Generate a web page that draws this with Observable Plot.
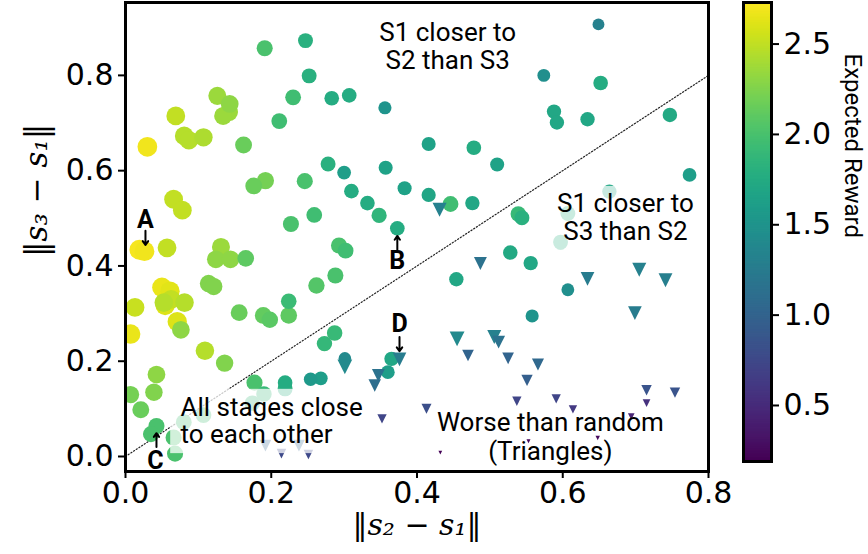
<!DOCTYPE html>
<html><head><meta charset="utf-8">
<script src="https://cdn.jsdelivr.net/npm/d3@7"></script>
<script src="https://cdn.jsdelivr.net/npm/@observablehq/plot@0.6"></script>
<style>
body{margin:0;background:#fff;}
#wrap{position:relative;width:868px;height:554px;overflow:hidden;}
#wrap svg{position:absolute;top:0;}
</style></head><body><div id="wrap"></div>
<script>
// circles: stages ordered (x = ||s2-s1||, y = ||s3-s1||, expected reward)
const circleX = [0.030,0.069,0.0805,0.087,0.107,0.126,0.143,0.142,0.134,0.162,0.191,0.247,0.252,0.230,0.283,0.307,0.211,0.176,0.192,0.246,0.278,0.300,0.310,0.332,0.066,0.078,0.227,0.259,0.019,0.026,0.057,0.131,0.124,0.144,0.165,0.293,0.302,0.050,0.061,0.013,0.0544,0.0526,0.0627,0.081,0.114,0.121,0.071,0.076,0.007,0.109,0.156,0.189,0.198,0.224,0.224,0.262,0.288,0.287,0.273,0.136,0.0425,0.039,0.007,0.021,0.0425,0.035,0.066,0.068,0.080,0.107,0.177,0.219,0.219,0.190,0.174,0.254,0.268,0.301,0.365,0.360,0.649,0.574,0.652,0.588,0.592,0.634,0.356,0.416,0.478,0.510,0.357,0.383,0.416,0.446,0.476,0.348,0.373,0.539,0.544,0.528,0.556,0.454,0.607,0.558,0.747,0.774,0.664,0.607,0.597];
const circleY = [0.650,0.715,0.673,0.664,0.670,0.757,0.740,0.723,0.715,0.654,0.857,0.873,0.799,0.754,0.752,0.758,0.704,0.568,0.579,0.578,0.614,0.596,0.557,0.532,0.540,0.517,0.488,0.507,0.434,0.431,0.438,0.440,0.414,0.414,0.416,0.443,0.432,0.355,0.347,0.313,0.317,0.323,0.330,0.323,0.363,0.357,0.283,0.266,0.257,0.222,0.302,0.296,0.287,0.296,0.326,0.359,0.380,0.259,0.237,0.196,0.172,0.135,0.130,0.098,0.064,0.047,0.040,0.006,0.072,0.087,0.155,0.155,0.142,0.131,0.112,0.162,0.164,0.206,0.205,0.177,0.907,0.800,0.784,0.724,0.701,0.708,0.732,0.656,0.648,0.613,0.606,0.563,0.549,0.530,0.532,0.506,0.479,0.509,0.501,0.428,0.406,0.372,0.350,0.295,0.717,0.591,0.556,0.510,0.450];
const circleReward = [2.68,2.50,2.45,2.45,2.42,2.35,2.30,2.35,2.35,2.15,2.00,1.80,1.80,1.95,1.75,1.75,1.95,2.15,2.20,2.00,1.80,1.60,1.75,1.75,2.50,2.50,2.00,1.95,2.70,2.68,2.50,2.35,2.30,2.30,2.10,2.00,1.95,2.65,2.62,2.52,2.60,2.45,2.50,2.45,2.25,2.25,2.60,2.30,2.65,2.45,2.15,2.12,2.08,2.10,1.92,2.05,2.00,1.90,1.88,2.25,2.30,2.25,2.20,2.15,2.00,2.00,2.00,2.00,1.95,1.95,2.00,1.75,1.80,1.90,1.90,1.55,1.60,1.40,1.70,1.60,1.30,1.45,1.75,1.70,1.70,1.70,1.50,1.65,1.75,1.65,1.65,1.65,1.68,1.95,1.70,1.85,1.75,1.90,1.80,1.72,1.70,1.70,1.45,1.50,1.72,1.60,1.70,1.80,1.80];

// triangles: worse than random
const triX = [0.431,0.487,0.634,0.705,0.741,0.699,0.455,0.506,0.512,0.376,0.347,0.342,0.470,0.525,0.566,0.551,0.537,0.591,0.614,0.715,0.754,0.715,0.694,0.413,0.352,0.432,0.553,0.648,0.301,0.192,0.238,0.214,0.251];
const triY = [0.518,0.405,0.373,0.392,0.370,0.301,0.247,0.251,0.240,0.204,0.170,0.149,0.212,0.206,0.193,0.160,0.116,0.121,0.099,0.139,0.134,0.112,0.084,0.100,0.079,0.008,0.032,0.039,0.188,0.023,0.023,0.006,0.004];
const triReward = [1.30,1.15,1.25,1.30,1.28,1.25,1.40,1.30,1.15,1.25,1.15,1.10,1.00,1.00,1.05,0.95,0.72,0.72,0.62,0.85,0.85,0.55,0.45,0.80,0.72,0.20,0.22,0.25,1.40,1.00,1.00,0.75,0.75];

// axis ticks
const xTicks = [0, 0.2, 0.4, 0.6, 0.8];
const xTickLabels = ["0.0", "0.2", "0.4", "0.6", "0.8"];
const yTicks = [0, 0.2, 0.4, 0.6, 0.8];
const yTickLabels = ["0.0", "0.2", "0.4", "0.6", "0.8"];
const cbTicks = [0.5, 1.0, 1.5, 2.0, 2.5];
const cbTickLabels = ["0.5", "1.0", "1.5", "2.0", "2.5"];
const rewardDomain = [0.19, 2.73];

// annotations
const regionTexts = ["S1 closer to\nS2 than S3", "S1 closer to\nS3 than S2", "Worse than random\n(Triangles)"];
const regionTextX = [0.442, 0.686, 0.583];
const regionTextY = [0.861, 0.502, 0.042];
const closeText = ["All stages close\nto each other"];
const closeTextX = [0.0754];
const closeTextY = [0.0756];
const boxX1 = [0.062, 0.579];
const boxX2 = [0.329, 0.797];
const boxY1 = [0.006, 0.433];
const boxY2 = [0.141, 0.567];
const letters = ["A", "B", "C", "D"];
const letterX = [0.0274, 0.373, 0.041, 0.376];
const letterY = [0.496, 0.411, -0.010, 0.279];
const arrowX = [0.0274, 0.373, 0.0425, 0.376];
const arrowY1 = [0.474, 0.434, 0.020, 0.251];
const arrowY2 = [0.444, 0.463, 0.049, 0.221];
const diagX = [0, 0.8];
const diagY = [0, 0.8];

const circles = circleX.map((x, i) => ({x, y: circleY[i], reward: circleReward[i]}));
const tris = triX.map((x, i) => ({x, y: triY[i], reward: triReward[i]}));
const regions = regionTexts.map((t, i) => ({t, x: regionTextX[i], y: regionTextY[i]}));
const closeLbl = closeText.map((t, i) => ({t, x: closeTextX[i], y: closeTextY[i]}));
const boxes = boxX1.map((x1, i) => ({x1, x2: boxX2[i], y1: boxY1[i], y2: boxY2[i]}));
const lets = letters.map((t, i) => ({t, x: letterX[i], y: letterY[i]}));
const arrows = arrowX.map((x, i) => ({x, y1: arrowY1[i], y2: arrowY2[i]}));
const diag = diagX.map((x, i) => ({x, y: diagY[i]}));

// downward-pointing triangle marker ('v')
const downTri = {
  draw(ctx, size) {
    const r = 1.18 * Math.sqrt(size / Math.PI);
    ctx.moveTo(0, r);
    ctx.lineTo(-r, -r);
    ctx.lineTo(r, -r);
    ctx.closePath();
  }
};

const colorOpt = {type: "linear", scheme: "viridis", domain: rewardDomain};

const main = Plot.plot({
  width: 868, height: 554,
  marginLeft: 125, marginRight: 160, marginTop: 2, marginBottom: 83,
  x: {domain: [0, 0.8]},
  y: {domain: [-0.0315, 0.953]},
  color: colorOpt,
  r: {type: "pow", exponent: 0.7, domain: [0, 2.73], range: [0, 10]},
  style: {fontFamily: "DejaVu Sans", background: "white", color: "black"},
  marks: [
    Plot.line(diag, {x: "x", y: "y", stroke: "#222", strokeWidth: 1.2, strokeDasharray: "1.2,2"}),
    Plot.dot(circles, {x: "x", y: "y", r: "reward", fill: "reward", stroke: "none", clip: true}),
    Plot.dot(tris, {x: "x", y: "y", r: "reward", fill: "reward", stroke: "none", symbol: downTri, clip: true}),
    Plot.rect(boxes, {x1: "x1", x2: "x2", y1: "y1", y2: "y2", fill: "white", fillOpacity: 0.75}),
    Plot.text(regions, {x: "x", y: "y", text: "t", fontFamily: "Roboto", fontSize: 26, lineHeight: 1.08, fill: "black"}),
    Plot.text(closeLbl, {x: "x", y: "y", text: "t", fontFamily: "Roboto", fontSize: 26, lineHeight: 1.04, textAnchor: "start", fill: "black"}),
    Plot.arrow(arrows, {x1: "x", x2: "x", y1: "y1", y2: "y2", stroke: "black", strokeWidth: 2, headLength: 7, headAngle: 70}),
    Plot.text(lets, {x: "x", y: "y", text: "t", fontFamily: "Roboto", fontWeight: "bold", fontSize: 25, fill: "black"}),
    Plot.axisX({ticks: xTicks, tickFormat: (d, i) => xTickLabels[i], tickSize: 7, tickPadding: 3, strokeWidth: 2, fontSize: 30, label: null}),
    Plot.axisY({ticks: yTicks, tickFormat: (d, i) => yTickLabels[i], tickSize: 7, tickPadding: 5, strokeWidth: 2, fontSize: 30, label: null}),
    Plot.text(["‖s₂ − s₁‖"], {frameAnchor: "bottom", dy: 63, fontFamily: "DejaVu Serif", fontStyle: "italic", fontSize: 30, fill: "black"}),
    Plot.text(["‖s₃ − s₁‖"], {frameAnchor: "left", dx: -88, dy: 20, rotate: -90, fontFamily: "DejaVu Serif", fontStyle: "italic", fontSize: 31, fill: "black"}),
    Plot.frame({stroke: "black", strokeWidth: 3})
  ]
});
main.style.left = "0px";
document.getElementById("wrap").appendChild(main);

const cbSteps = d3.range(rewardDomain[0], rewardDomain[1], 0.01);
const cb = Plot.plot({
  width: 148, height: 554,
  marginLeft: 23, marginRight: 97, marginTop: 2, marginBottom: 93,
  y: {domain: rewardDomain},
  color: colorOpt,
  style: {fontFamily: "DejaVu Sans", background: "transparent", color: "black"},
  marks: [
    Plot.rect(cbSteps, {y1: d => d, y2: d => Math.min(d + 0.015, rewardDomain[1]), fill: d => d, stroke: d => d, strokeWidth: 0.6}),
    Plot.axisY({anchor: "right", ticks: cbTicks, tickFormat: (d, i) => cbTickLabels[i], tickSize: 7, tickPadding: 5, strokeWidth: 2, fontSize: 30, label: null}),
    Plot.text(["Expected Reward"], {frameAnchor: "right", dx: 81, dy: 6, rotate: 90, fontFamily: "Roboto", fontSize: 24, fill: "black"}),
    Plot.frame({stroke: "black", strokeWidth: 3})
  ]
});
cb.style.left = "720px";
document.getElementById("wrap").appendChild(cb);
</script>
</body></html>
